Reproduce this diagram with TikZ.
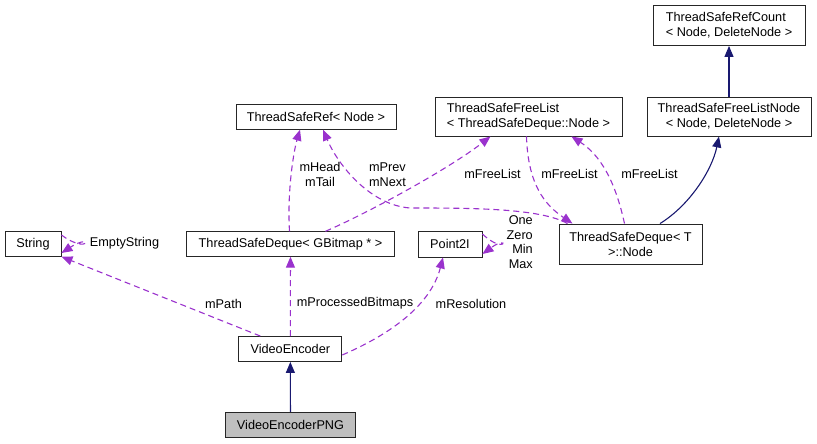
\documentclass[tikz,border=0pt]{standalone}
\usepackage{fontspec}
\setmainfont{Liberation Sans}
\usetikzlibrary{arrows.meta}
\definecolor{memcol}{HTML}{9A32CD}
\definecolor{inhcol}{HTML}{191970}
\definecolor{boxfill}{HTML}{BFBFBF}
\begin{document}
\begin{tikzpicture}[x=1pt, y=-1pt, font=\fontsize{12.7}{15}\selectfont,
  cls/.style={draw=black!85, line width=0.9pt, fill=white, inner sep=2pt, align=center},
  mem/.style={draw=memcol, line width=1.1pt, dash pattern=on 6pt off 4pt, -{Triangle[length=11pt,width=9pt]}},
  inh/.style={draw=inhcol, line width=1.1pt, -{Triangle[length=11pt,width=9pt]}},
  lbl/.style={inner sep=0pt, align=center}]
  \useasboundingbox (0,0) rectangle (817,444);
  \node[cls, minimum width=152, minimum height=40, align=left] (rc) at (729,25.5) {ThreadSafeRefCount\\< Node, DeleteNode >};
  \node[cls, minimum width=164, minimum height=39] (fln) at (729,116.5) {ThreadSafeFreeListNode\\< Node, DeleteNode >};
  \node[cls, minimum width=187, minimum height=39, align=left] (fl) at (528.5,116.5) {ThreadSafeFreeList\\< ThreadSafeDeque::Node >};
  \node[cls, minimum width=160, minimum height=25] (sref) at (316,116.7) {ThreadSafeRef< Node >};
  \node[cls, minimum width=143, minimum height=40] (dnode) at (630.5,244) {ThreadSafeDeque< T\\ >::Node};
  \node[cls, minimum width=64, minimum height=26] (p2i) at (450,244) {Point2I};
  \node[cls, minimum width=56, minimum height=24.5] (str) at (33,244) {String};
  \node[cls, minimum width=208, minimum height=24.5] (dbmp) at (290.5,244) {ThreadSafeDeque< GBitmap * >};
  \node[cls, minimum width=103, minimum height=25] (enc) at (290.3,349) {VideoEncoder};
  \node[cls, minimum width=130, minimum height=25.5, fill=boxfill] (png) at (290.5,425) {VideoEncoderPNG};

  \draw[inh] (png) -- (enc);
  \draw[inh] (fln) -- (rc);
  \draw[inh] ([xshift=29.5]dnode.north) .. controls (690,205) and (712,170) .. ([xshift=-10]fln.south);

  \draw[mem] ([xshift=-30]enc.north) -- (str.south east);
  \draw[mem] (enc) -- (dbmp);
  \draw[mem] ([yshift=-6]enc.east) .. controls (400,330) and (432,300) .. ([xshift=-7]p2i.south);
  \draw[mem] ([yshift=10]p2i.east) .. controls (506,256) and (510,234) .. ([yshift=-10]p2i.east);
  \draw[mem] ([yshift=9]str.east) .. controls (90,256) and (94,232) .. ([yshift=-9]str.east);
  \draw[mem] ([xshift=-1]dbmp.north) .. controls (287,190) and (294,150) .. ([xshift=-16]sref.south);
  \draw[mem] ([xshift=35]dbmp.north) .. controls (370,212) and (450,168) .. ([xshift=-38]fl.south);
  \draw[mem] ([xshift=-63]dnode.north) .. controls (540,208) and (470,208) .. (410,208) .. controls (370,205) and (338,165) .. ([xshift=7]sref.south);
  \draw[mem] ([xshift=-2]fl.south) .. controls (528,185) and (545,205) .. ([xshift=-58]dnode.north);
  \draw[mem] ([xshift=-6]dnode.north) .. controls (615,180) and (600,155) .. ([xshift=43]fl.south);

  \node[lbl] (l_empty) at (124.5,243) {EmptyString};
  \node[lbl] (l_path) at (223.5,303.5) {mPath};
  \node[lbl] (l_proc) at (355,303.5) {mProcessedBitmaps};
  \node[lbl] (l_res) at (471,303.5) {mResolution};
  \node[lbl, anchor=east, align=right, font=\fontsize{12.7}{14.7}\selectfont] (l_consts) at (533,242) {One\\Zero\\Min\\Max};
  \node[lbl] (l_head) at (320,174.5) {mHead\\mTail};
  \node[lbl] (l_prev) at (387.5,174.5) {mPrev\\mNext};
  \node[lbl] (l_fl1) at (492.5,174) {mFreeList};
  \node[lbl] (l_fl2) at (569.5,174) {mFreeList};
  \node[lbl] (l_fl3) at (649.5,174) {mFreeList};
\end{tikzpicture}
\end{document}
